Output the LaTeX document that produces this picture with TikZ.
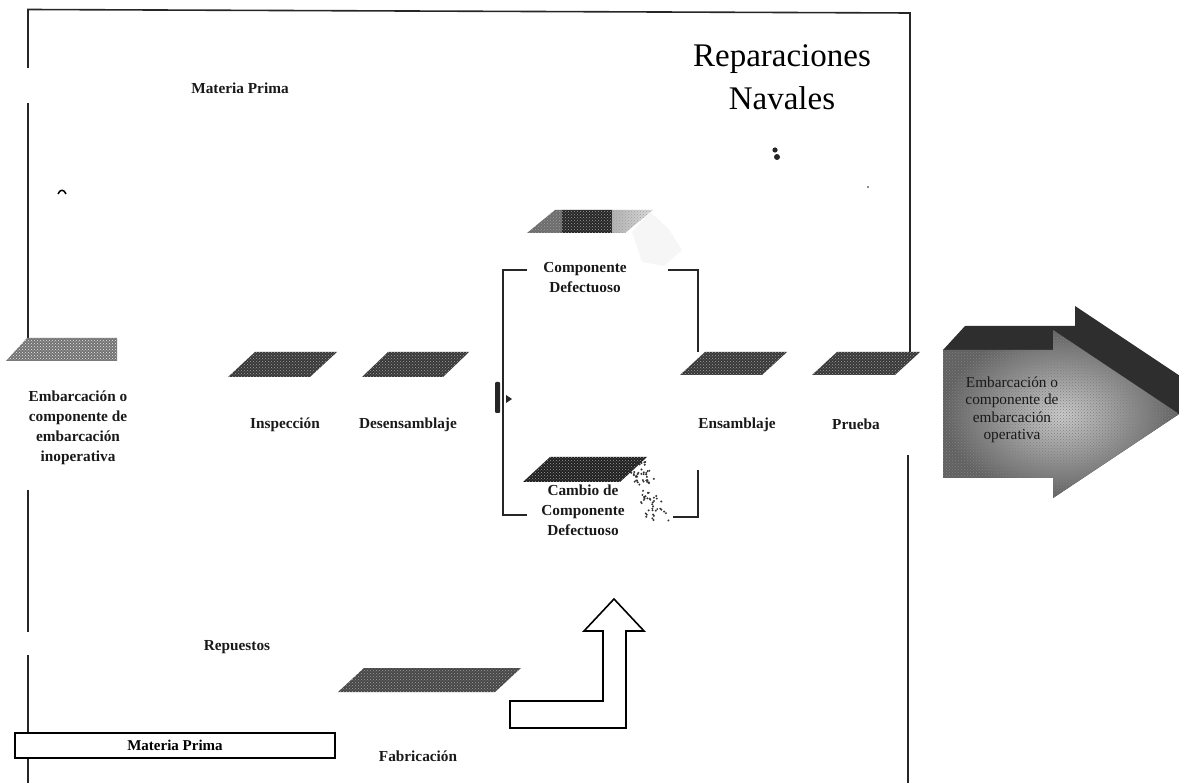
\documentclass[tikz,border=0pt]{standalone}
\usepackage{fontspec}
\setmainfont{Liberation Serif}
\usetikzlibrary{patterns}

% slab: name, bottom-left x, top y, width, height, slant
\newcommand\slab[7][black!78]{%
  \fill[#1] (#3+#7,#4) -- ++(#5,0) -- ++(-#7,#6) -- ++(-#5,0) -- cycle;
  \fill[grain] (#3+#7,#4) -- ++(#5,0) -- ++(-#7,#6) -- ++(-#5,0) -- cycle;
  \coordinate (#2) at (#3+#7/2+#5/2,#4+#6/2);
}

\begin{document}
\begin{tikzpicture}[x=1pt,y=-1pt,
  frameline/.style={line width=1.6pt, black!85},
  link/.style={line width=1.7pt, black!85},
  lbl/.style={font=\fontsize{15.3}{20}\selectfont\bfseries, align=center, inner sep=0pt, text=black!90},
  grain/.style={pattern=crosshatch dots, pattern color=gray!75},
  lightgrain/.style={pattern=crosshatch dots, pattern color=white!85!gray},
]
\useasboundingbox (0,0) rectangle (1179,783);

% ---------- outer frame ----------
\coordinate (fTL) at (28,9.5);
\coordinate (fTR) at (910,13);
\draw[frameline] (28,68) -- (fTL) -- (fTR) -- (910,352);
\draw[frameline] (28,103) -- (28,338);
\draw[frameline] (28,490) -- (28,632);
\draw[frameline] (28,655) -- (28,783);
\draw[frameline] (908,455) -- (908,783);

% ---------- title ----------
\node[font=\fontsize{33}{43}\selectfont, align=center, inner sep=0pt] (title) at (782,77) {Reparaciones\\Navales};

% ---------- slabs ----------
% inoperative vessel (lighter)
\fill[black!55] (27,338) -- (117,338) -- (117,361) -- (6,361) -- cycle;
\fill[lightgrain] (27,338) -- (117,338) -- (117,361) -- (6,361) -- cycle;
\coordinate (sEmb) at (62,350);

\slab{sInsp}{228}{352}{82}{25}{27}
\slab{sDes}{362}{352}{81}{25}{26}
\slab{sEns}{680}{352}{82}{23}{25}
\slab{sPru}{812}{352}{83}{23}{25}
\slab[black!72]{sFab}{338}{668}{157}{24}{26}
\slab[black!88]{sCamb}{523}{457}{97}{25}{27}

% defective component slab, three tones
\begin{scope}
  \clip (555,210) -- (653,210) -- (625,233) -- (527,233) -- cycle;
  \fill[gray!85!black] (520,205) rectangle (562,240);
  \fill[black!85] (562,205) rectangle (612,240);
  \shade[left color=gray!60, right color=gray!25] (612,205) rectangle (655,240);
  \fill[grain] (520,205) rectangle (655,240);
\end{scope}
\coordinate (sComp) at (590,221);
% faint outline beside it
\fill[gray!7] (632,232) -- (650,212) -- (668,228) -- (682,250) -- (664,266) -- (642,262) -- cycle;

% speckles beside the replacement slab
\pgfmathsetseed{11}
\foreach \i in {1,...,80}{
  \pgfmathsetmacro\tt{rnd}
  \pgfmathsetmacro\uu{rnd}
  \fill[black!80] (626+22*\uu+22*\tt,462+60*\tt) circle[radius=1.1pt];
}

% ---------- labels ----------
\node[lbl] (tMP) at (240,88) {Materia Prima};
\node[lbl] (tEmb) at (78,428) {Embarcación o\\componente de\\embarcación\\inoperativa};
\node[lbl] (tInsp) at (285,425) {Inspección};
\node[lbl] (tDes) at (408,425) {Desensamblaje};
\node[lbl] (tComp) at (585,278) {Componente\\Defectuoso};
\node[lbl] (tCamb) at (583,510) {Cambio de\\Componente\\Defectuoso};
\node[lbl] (tEns) at (737,425) {Ensamblaje};
\node[lbl] (tPru) at (856,424) {Prueba};
\node[lbl] (tRep) at (237,647) {Repuestos};
\node[lbl] (tFab) at (418,756) {Fabricación};

% ---------- branch brackets ----------
\coordinate (bTL) at (527,270);
\coordinate (bBL) at (527,515);
\coordinate (bTR) at (668,270);
\coordinate (bBR) at (673,517);
\draw[link] (bTL) -- (503,270) -- (503,515) -- (bBL);
\draw[link] (bTR) -- (698,270) -- (698,352);
\draw[link] (bBR) -- (698,517) -- (698,470);

% small junction mark
\fill[black!85, rounded corners=1pt] (495,382) rectangle (500,413);
\fill[black!85] (506,395) -- (512,399) -- (506,403) -- cycle;

% ---------- raw material bar ----------
\node[draw, line width=1.4pt, fill=white, minimum width=320pt, minimum height=25pt, inner sep=0pt,
      font=\fontsize{15}{17}\selectfont\bfseries] (mpbox) at (175,745.5) {Materia Prima};

% ---------- supply arrow ----------
\coordinate (upTip) at (614,599);
\draw[line width=1.6pt, fill=white, line join=miter]
  (510,701) -- (603,701) -- (603,631) -- (584,631) -- (upTip) -- (644,631)
  -- (626,631) -- (626,728) -- (510,728) -- cycle;

% ---------- output arrow ----------
\fill[black!82] (943,350) -- (965,326) -- (1075,326) -- (1075,306) -- (1201,390)
  -- (1179,414) -- (1053,498) -- (1053,478) -- (943,478) -- cycle;
\shade[inner color=gray!40, outer color=black!62]
  (943,350) -- (1053,350) -- (1053,330) -- (1179,414) -- (1053,498) -- (1053,478) -- (943,478) -- cycle;
\fill[pattern=crosshatch dots, pattern color=black!50]
  (943,350) -- (1053,350) -- (1053,330) -- (1179,414) -- (1053,498) -- (1053,478) -- (943,478) -- cycle;
\node[font=\fontsize{15.3}{17.5}\selectfont, align=center, inner sep=0pt, text=black!90] (tOut) at (1012,410)
  {Embarcación o\\componente de\\embarcación\\operativa};

% ---------- stray marks ----------
\draw[line width=1.5pt] (58,194) .. controls (60,189) and (64,189) .. (66,194);
\fill[black!85] (775,150) circle[radius=2.6pt];
\fill[black!85] (777,157) circle[radius=3pt];
\fill[black!60] (868,187) circle[radius=1.2pt];
\end{tikzpicture}
\end{document}
